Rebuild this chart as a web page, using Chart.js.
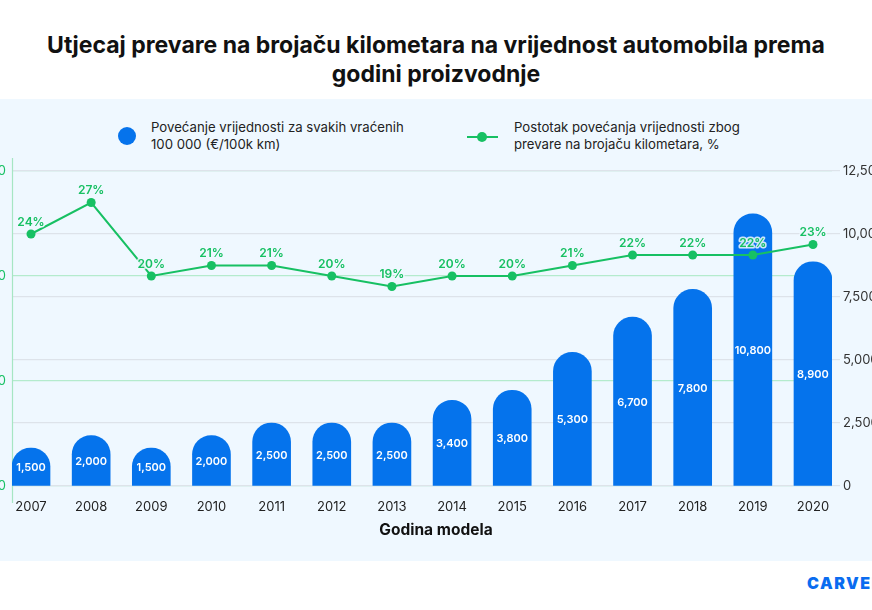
<!DOCTYPE html>
<html>
<head>
<meta charset="utf-8">
<script src="https://cdn.jsdelivr.net/npm/chart.js@4"></script>
<style>
  html, body { margin:0; padding:0; width:872px; height:610px; overflow:hidden; background:#ffffff; font-family: Inter, "Noto Sans", sans-serif; }
  #title { position:absolute; left:0; top:31px; width:872px; text-align:center; font-weight:700; font-size:23px; line-height:29px; color:#111; }
  #panel { position:absolute; left:0; top:99px; width:872px; height:462px; background:#eff8ff; }
  #wrap { position:absolute; left:-28px; top:155px; width:920px; height:400px; }
  .lg { position:absolute; font-size:13.2px; line-height:17px; color:#222; }
  #dot1 { position:absolute; left:118px; top:127px; width:18px; height:18px; border-radius:50%; background:#0573ec; }
  #ln2 { position:absolute; left:467px; top:136px; width:31px; height:2px; background:#17c063; }
  #dot2 { position:absolute; left:477px; top:132px; width:10px; height:10px; border-radius:50%; background:#17c063; }
  #xtitle { position:absolute; left:0; top:520px; width:872px; text-align:center; font-size:15.5px; line-height:20px; font-weight:700; color:#111; }
  #logo { position:absolute; left:807px; top:574px; font-size:16px; line-height:19px; font-weight:900; color:#0a6cf0; letter-spacing:1.5px; }
</style>
</head>
<body>
<div id="title">Utjecaj prevare na brojaču kilometara na vrijednost automobila prema<br>godini proizvodnje</div>
<div id="panel"></div>
<div id="dot1"></div>
<div class="lg" style="left:151px; top:119px;">Povećanje vrijednosti za svakih vraćenih<br>100 000 (€/100k km)</div>
<div id="ln2"></div><div id="dot2"></div>
<div class="lg" style="left:514px; top:119px;">Postotak povećanja vrijednosti zbog<br>prevare na brojaču kilometara, %</div>
<div id="wrap"><canvas id="c"></canvas></div>
<div id="xtitle">Godina modela</div>
<div id="logo">CARVER</div>
<script>
const years = [2007, 2008, 2009, 2010, 2011, 2012, 2013, 2014, 2015, 2016, 2017, 2018, 2019, 2020];
const valueIncrease = [1500, 2000, 1500, 2000, 2500, 2500, 2500, 3400, 3800, 5300, 6700, 7800, 10800, 8900];
const percentIncrease = [24, 27, 20, 21, 21, 20, 19, 20, 20, 21, 22, 22, 22, 23];
const leftTicks = [0, 10, 20, 30];
const rightTicks = [0, 2500, 5000, 7500, 10000, 12500];

const BLUE = '#0573ec';
const GREEN = '#17c063';
const BG = '#eff8ff';
const HALF = 0.316;

const labelPlugin = {
  id: 'labels',
  beforeDatasetsDraw(chart) {
    const {ctx, chartArea} = chart;
    ctx.save();
    ctx.strokeStyle = '#a6e6c3';
    ctx.lineWidth = 1.2;
    ctx.beginPath();
    ctx.moveTo(chartArea.left + 0.5, chartArea.top - 13);
    ctx.lineTo(chartArea.left + 0.5, chartArea.bottom + 17);
    ctx.stroke();
    ctx.restore();
  },
  afterDatasetsDraw(chart) {
    const {ctx} = chart;
    ctx.save();
    const barMeta = chart.getDatasetMeta(0);
    ctx.font = '600 11px Inter';
    ctx.fillStyle = '#ffffff';
    ctx.textAlign = 'center';
    ctx.textBaseline = 'middle';
    barMeta.data.forEach((el, i) => {
      const y = (el.y + el.base) / 2 + 1;
      ctx.fillText(valueIncrease[i].toLocaleString('en-US'), el.x, y);
    });
    const lineMeta = chart.getDatasetMeta(1);
    ctx.font = '600 12px Inter';
    ctx.lineJoin = 'round';
    lineMeta.data.forEach((el, i) => {
      const t = percentIncrease[i] + '%';
      ctx.strokeStyle = 'rgba(239,248,255,0.85)';
      ctx.lineWidth = 3;
      ctx.strokeText(t, el.x, el.y - 12);
      ctx.fillStyle = GREEN;
      ctx.fillText(t, el.x, el.y - 12);
    });
    ctx.restore();
  }
};

new Chart(document.getElementById('c'), {
  data: {
    datasets: [
      {
        type: 'bar',
        label: 'Povećanje vrijednosti za svakih vraćenih 100 000 (€/100k km)',
        data: years.map((y, i) => ({x: y, y: valueIncrease[i]})),
        backgroundColor: BLUE,
        borderWidth: 0,
        borderSkipped: 'bottom',
        borderRadius: {topLeft: 19, topRight: 19, bottomLeft: 0, bottomRight: 0},
        barThickness: 38,
        xAxisID: 'x',
        yAxisID: 'y1',
        order: 1
      },
      {
        type: 'line',
        label: 'Postotak povećanja vrijednosti zbog prevare na brojaču kilometara, %',
        data: years.map((y, i) => ({x: y, y: percentIncrease[i]})),
        borderColor: GREEN,
        backgroundColor: GREEN,
        borderWidth: 2,
        pointRadius: 4.5,
        pointBackgroundColor: GREEN,
        pointBorderWidth: 0,
        tension: 0,
        xAxisID: 'x',
        yAxisID: 'y',
        order: 0
      }
    ]
  },
  options: {
    responsive: true,
    maintainAspectRatio: false,
    animation: false,
    layout: { padding: { top: 16, bottom: 0, left: 0, right: 0 } },
    plugins: { legend: { display: false }, tooltip: { enabled: false } },
    scales: {
      x: {
        type: 'linear',
        position: 'bottom',
        offset: false,
        min: years[0] - HALF,
        max: years[years.length - 1] + HALF,
        afterBuildTicks: s => { s.ticks = years.map(v => ({value: v})); },
        grid: { display: false, offset: false },
        border: { display: false },
        ticks: { color: '#222', font: { family: 'Inter', size: 13 }, padding: 5, maxRotation: 0, autoSkip: false, callback: v => String(v) },
        afterFit: s => { s.height = 69; }
      },
      y: {
        position: 'left',
        min: 0, max: 30,
        afterBuildTicks: s => { s.ticks = leftTicks.map(v => ({value: v})); },
        grid: { color: '#b4ebcd', drawTicks: false, z: -2, lineWidth: 1.2 },
        border: { display: false },
        ticks: { color: GREEN, font: { family: 'Inter', size: 13 }, padding: 6 },
        afterFit: s => { s.width = 40; }
      },
      y1: {
        position: 'right',
        min: 0, max: 12500,
        afterBuildTicks: s => { s.ticks = rightTicks.map(v => ({value: v})); },
        grid: { color: '#dde3ea', drawTicks: true, tickLength: 8, z: -1, lineWidth: 1.2 },
        border: { display: false },
        ticks: { color: '#333', font: { family: 'Inter', size: 13 }, padding: 3, callback: v => v.toLocaleString('en-US') },
        afterFit: s => { s.width = 60; }
      }
    }
  },
  plugins: [labelPlugin]
});
</script>
</body>
</html>
